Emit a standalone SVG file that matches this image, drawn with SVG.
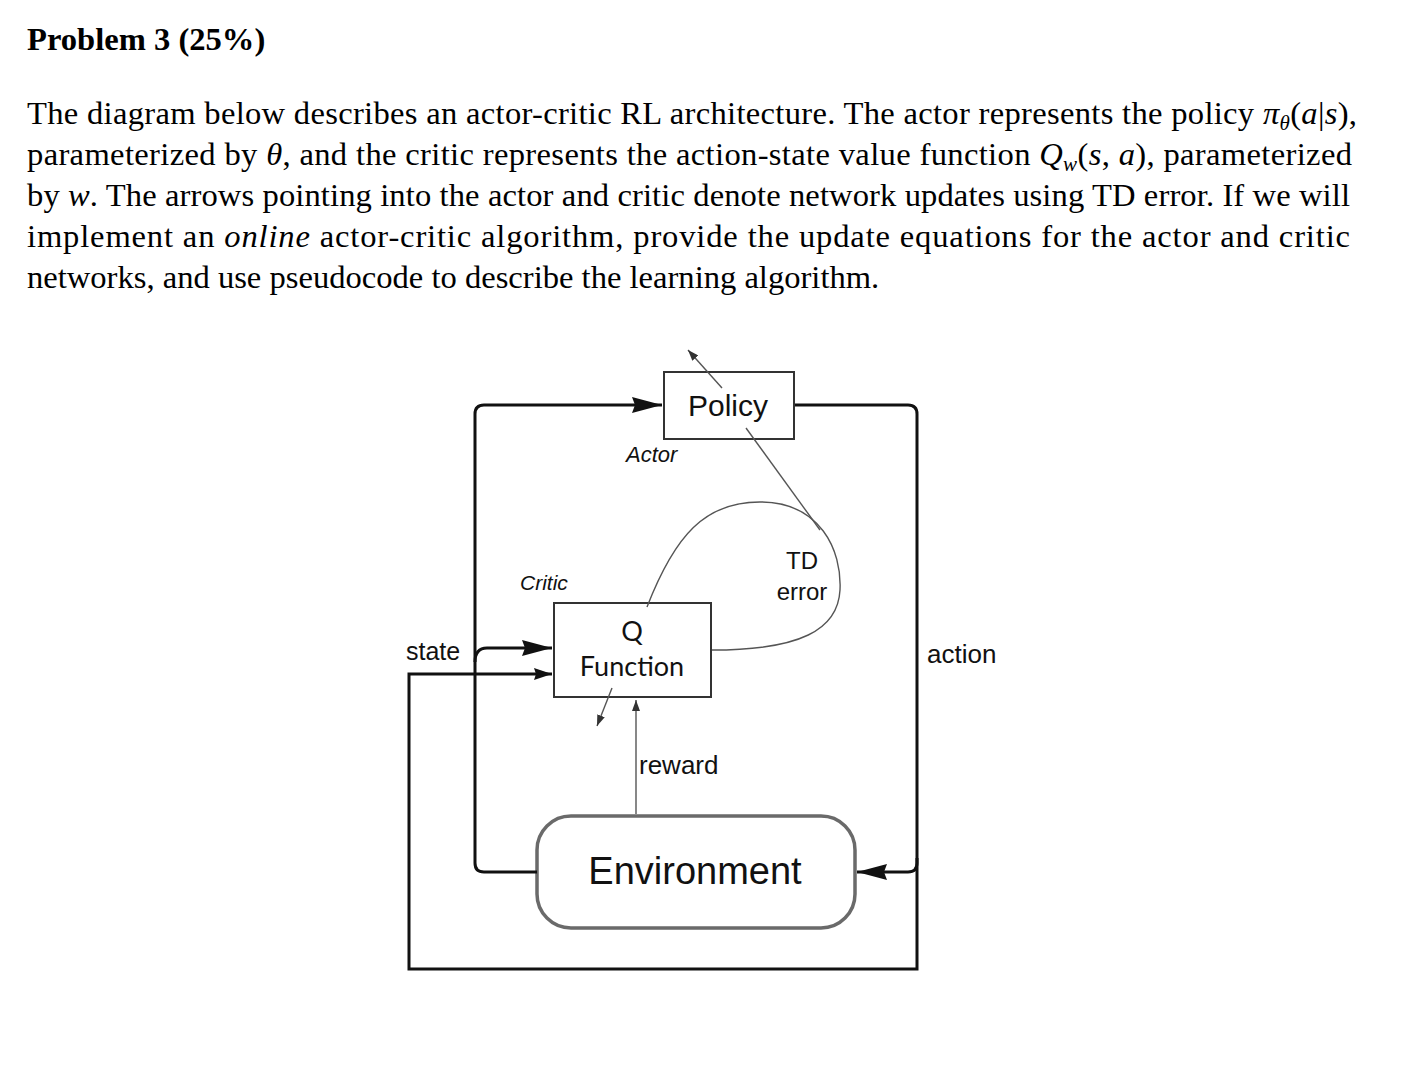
<svg xmlns="http://www.w3.org/2000/svg" width="1422" height="1090" viewBox="0 0 1422 1090">
<style>
.title{font-family:"Liberation Serif",serif;font-weight:bold;font-size:32.6px;fill:#000}
.body{font-family:"Liberation Serif",serif;font-size:32.6px;fill:#000}
.m{font-style:italic}
.lbl{font-family:"Liberation Sans",Arial,sans-serif;fill:#111}
.it{font-style:italic}
.qf{font-family:Lato,"Open Sans",sans-serif;font-size:27px;fill:#111}
.box{fill:#fff;stroke:#333;stroke-width:2}
.env{fill:#fff;stroke:#6a6a6a;stroke-width:3.5}
.thick{fill:none;stroke:#111;stroke-width:3}
.thin{fill:none;stroke:#555;stroke-width:1.4}
</style>
<defs>
<marker id="big" markerUnits="userSpaceOnUse" markerWidth="32" markerHeight="16" refX="30" refY="8" orient="auto">
<path d="M0,0 L30,8 L0,16 L3,8 Z" fill="#111"/>
</marker>
<marker id="mid" markerUnits="userSpaceOnUse" markerWidth="20" markerHeight="12" refX="18" refY="6" orient="auto">
<path d="M0,0 L18,6 L0,12 L2,6 Z" fill="#111"/>
</marker>
<marker id="small" markerUnits="userSpaceOnUse" markerWidth="12" markerHeight="8" refX="11" refY="4" orient="auto">
<path d="M0,0 L11,4 L0,8 Z" fill="#333"/>
</marker>
</defs>

<g id="text-block">
<text class="title" x="27" y="50">Problem 3 (25%)</text>
<text class="body" x="27" y="124" textLength="1330" lengthAdjust="spacing">The diagram below describes an actor-critic RL architecture. The actor represents the policy <tspan class="m">π</tspan><tspan class="m" font-size="21" dy="6">θ</tspan><tspan dy="-6">(</tspan><tspan class="m">a</tspan>|<tspan class="m">s</tspan>),</text>
<text class="body" x="27" y="165" textLength="1325" lengthAdjust="spacing">parameterized by <tspan class="m">θ</tspan>, and the critic represents the action-state value function <tspan class="m">Q</tspan><tspan class="m" font-size="21" dy="6">w</tspan><tspan dy="-6">(</tspan><tspan class="m">s</tspan>, <tspan class="m">a</tspan>), parameterized</text>
<text class="body" x="27" y="206" textLength="1323" lengthAdjust="spacing">by <tspan class="m">w</tspan>. The arrows pointing into the actor and critic denote network updates using TD error. If we will</text>
<text class="body" x="27" y="247" textLength="1323" lengthAdjust="spacing">implement an <tspan class="m">online</tspan> actor-critic algorithm, provide the update equations for the actor and critic</text>
<text class="body" x="27" y="288">networks, and use pseudocode to describe the learning algorithm.</text>
</g>

<g id="policy">
<rect class="box" x="664" y="372" width="130" height="67"/>
<text class="lbl" x="728" y="416" font-size="30" text-anchor="middle">Policy</text>
</g>
<g id="actor-label">
<text class="lbl it" x="626" y="462" font-size="22">Actor</text>
</g>
<g id="critic-label">
<text class="lbl it" x="520" y="590" font-size="21">Critic</text>
</g>
<g id="td-error">
<text class="lbl" x="802" y="569" font-size="24" text-anchor="middle">TD</text>
<text class="lbl" x="802" y="600" font-size="24" text-anchor="middle">error</text>
</g>
<g id="q-function">
<rect class="box" x="554" y="603" width="157" height="94"/>
<text class="qf" x="632" y="641" text-anchor="middle">Q</text>
<text class="qf" x="632" y="676" text-anchor="middle">Function</text>
</g>
<g id="environment">
<rect class="env" x="537" y="816" width="318" height="112" rx="34" ry="34"/>
<text class="lbl" x="695" y="884" font-size="38" text-anchor="middle">Environment</text>
</g>
<g id="labels">
<text class="lbl" x="406" y="660" font-size="25">state</text>
<text class="lbl" x="927" y="663" font-size="26">action</text>
<text class="lbl" x="639" y="774" font-size="26">reward</text>
</g>

<g id="connectors">
<path class="thick" d="M537,872 L484,872 Q475,872 475,863 L475,414 Q475,405 484,405 L662,405" marker-end="url(#big)"/>
<path class="thick" d="M795,405 L908,405 Q917,405 917,414 L917,863 Q917,872 908,872 L857,872" marker-end="url(#big)"/>
<path class="thick" d="M917,858 L917,969 L409,969 L409,674 L552,674" marker-end="url(#mid)"/>
<path class="thick" d="M475,662 Q475,648 487,648 L552,648" marker-end="url(#big)"/>
<path class="thin" d="M636,814 L636,700" marker-end="url(#small)"/>
<path class="thin" d="M647,607 C675,535 705,502 760,502 C820,502 842,550 840,590 C838,630 800,650 712,650"/>
<path class="thin" d="M746,428 L820,530"/>
<path class="thin" d="M722,388 L688,350" marker-end="url(#small)"/>
<path class="thin" d="M612,688 L597,726" marker-end="url(#small)"/>
</g>
</svg>
